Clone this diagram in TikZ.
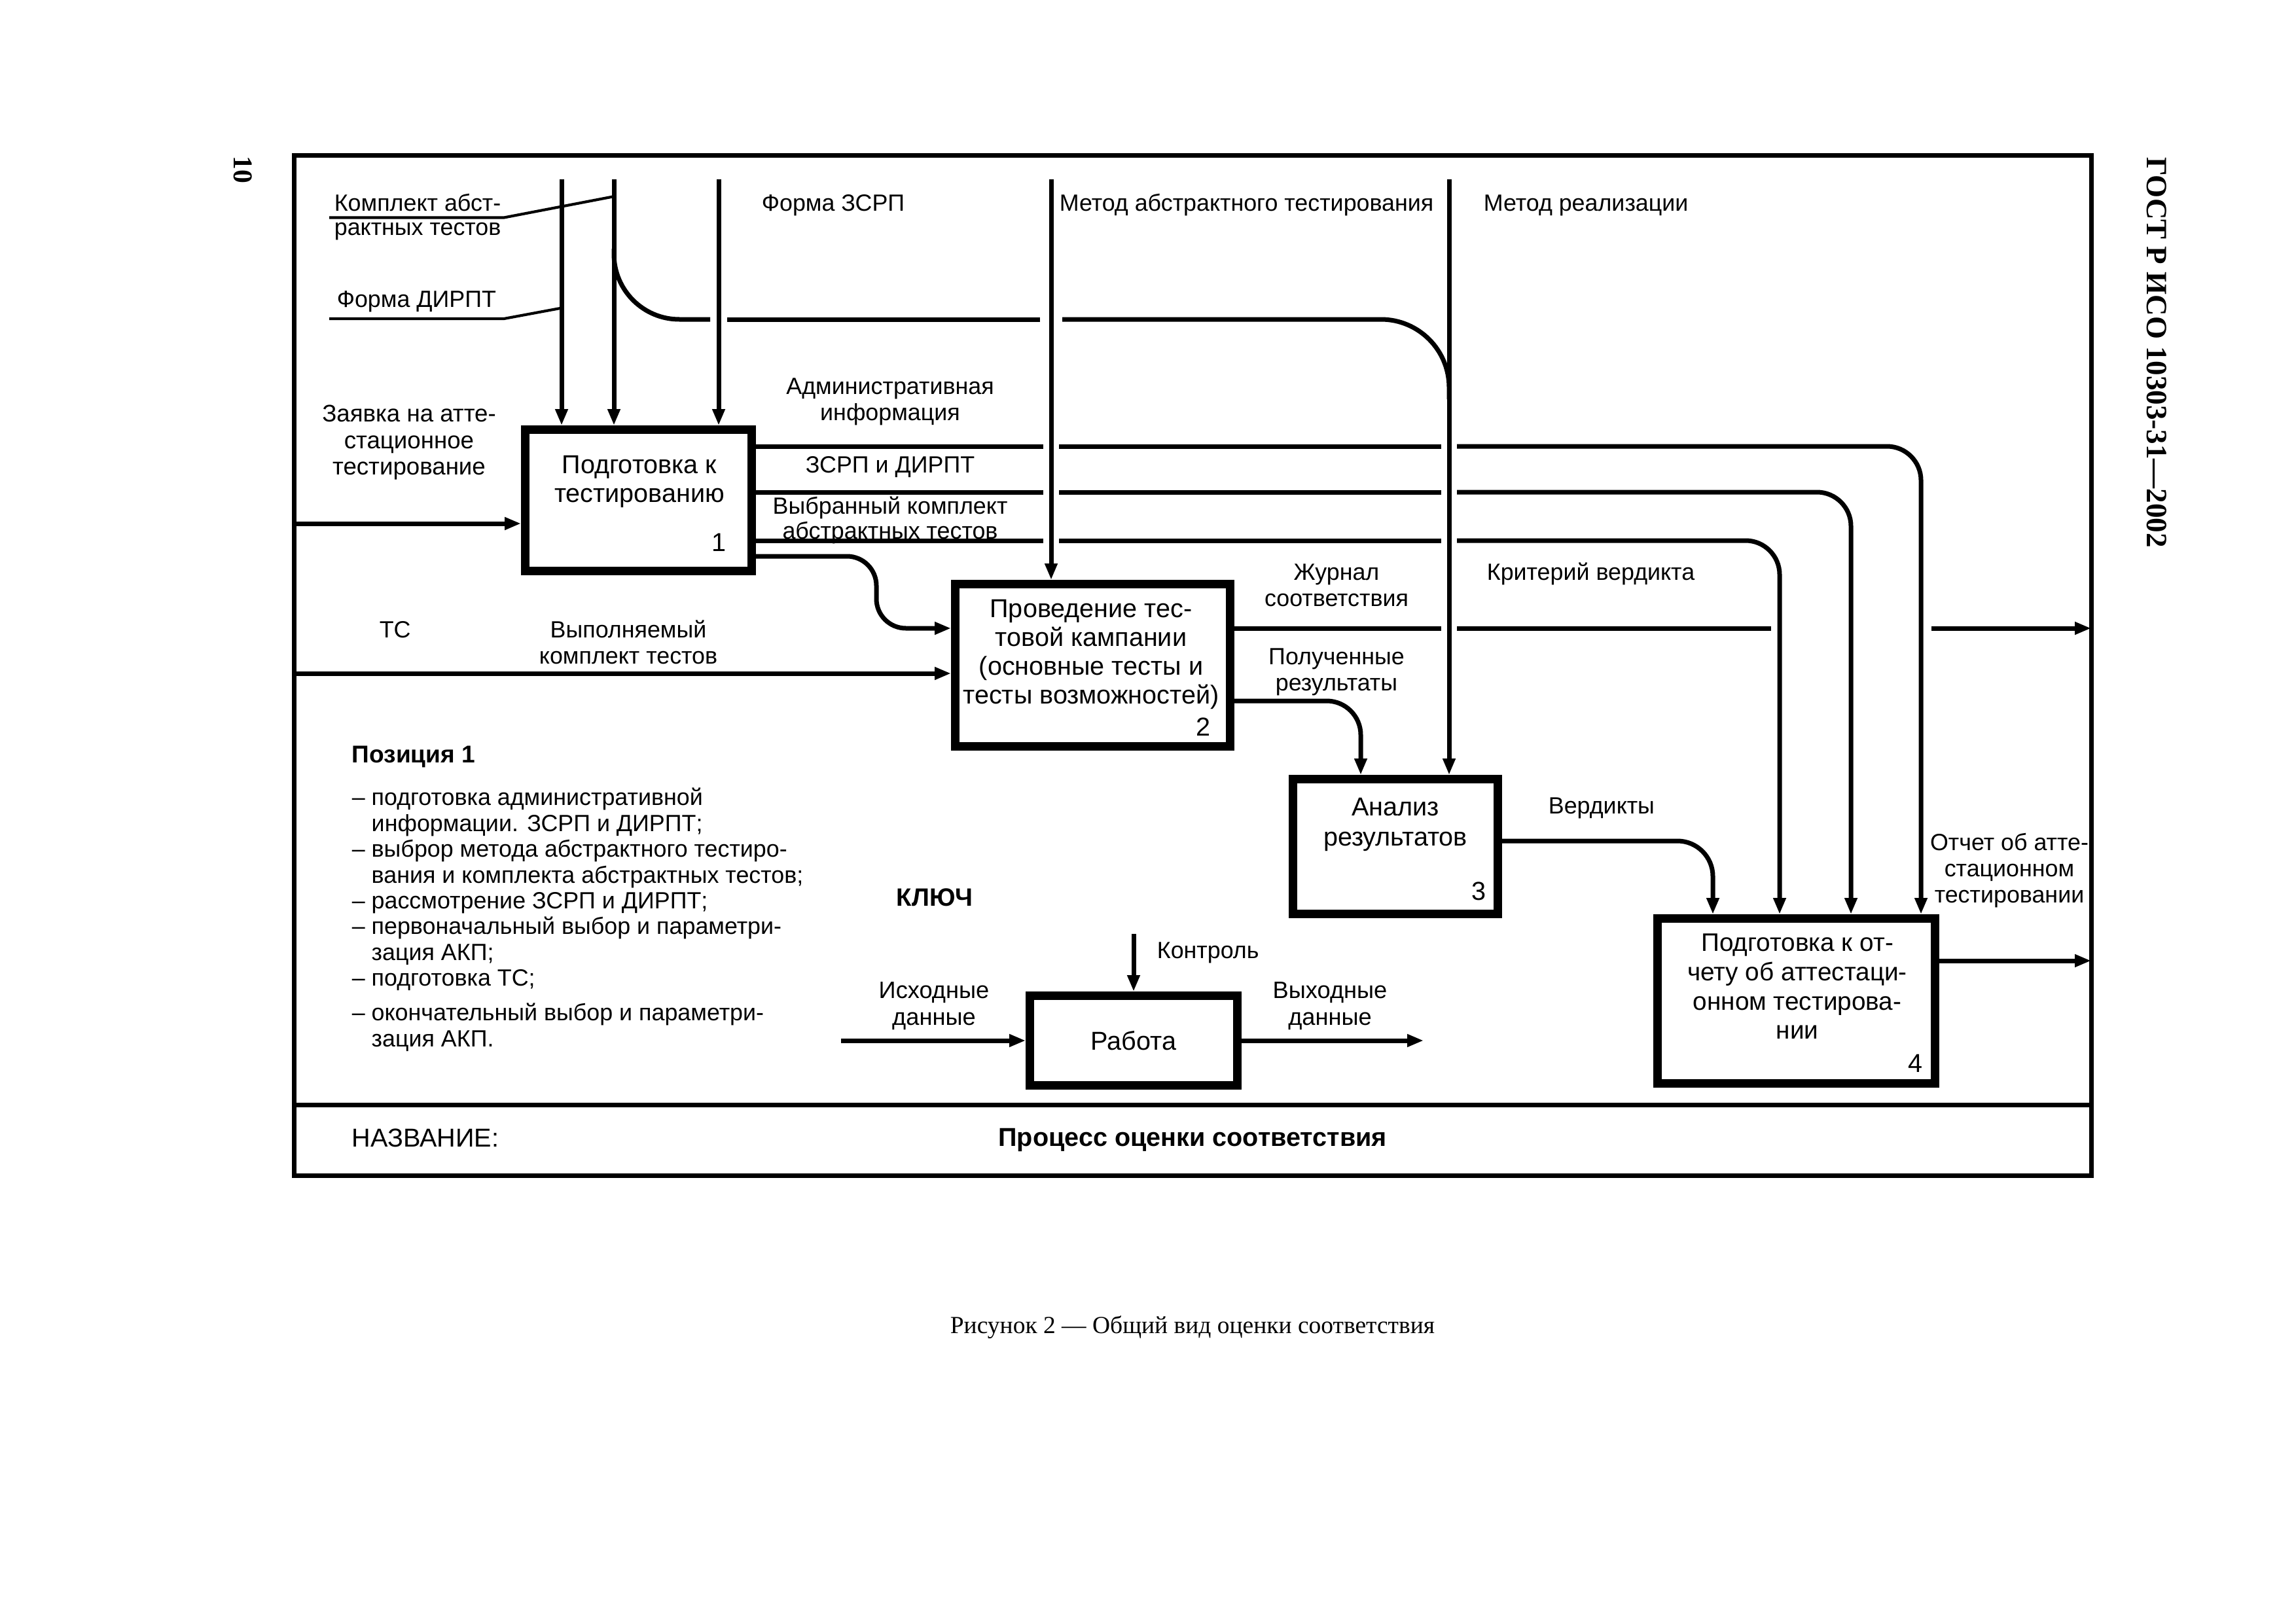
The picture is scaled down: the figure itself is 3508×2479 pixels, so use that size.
\documentclass[tikz,border=0pt]{standalone}
\usepackage{fontspec}
\setmainfont{Liberation Sans}
\newfontfamily\serifrm{Liberation Serif}
\usetikzlibrary{arrows.meta}
\newcommand{\T}{\rule{0pt}{7.5pt}}
\begin{document}
\begin{tikzpicture}[x=0.24pt,y=-0.24pt,
  conn/.style={line width=1.68pt},
  arr/.style={line width=1.68pt,-{Triangle[length=6pt,width=4.4pt]}},
  frm/.style={line width=1.68pt},
  lead/.style={line width=1.0pt},
  proc/.style={draw,line width=3.12pt,inner sep=0pt,font=\fontsize{9.5}{10.6}\selectfont},
  tc/.style={anchor=north,yshift=7.5pt,inner sep=0pt,align=center,font=\fontsize{8.6}{9.6}\selectfont},
  tl/.style={anchor=north west,yshift=7.5pt,inner sep=0pt,align=left,font=\fontsize{8.6}{9.6}\selectfont},
  num/.style={anchor=base east,inner sep=0pt,font=\fontsize{9.5}{10}\selectfont}
]
\useasboundingbox (0,0) rectangle (3508,2479);
\fill[white] (0,0) rectangle (3508,2479);

% frame
\coordinate (fTL) at (449,237.5);
\coordinate (fBR) at (3195,1796);
\draw[frm] (fTL) rectangle (fBR);
\coordinate (sepL) at (449,1688);
\coordinate (sepR) at (3195,1688);
\draw[frm] (sepL) -- (sepR);

% activity boxes
\node[proc,minimum width=83.04pt,minimum height=51.84pt] (b1) at (975.5,764.5) {};
\node[proc,minimum width=100.8pt,minimum height=59.52pt] (b2) at (1669.5,1016.5) {};
\node[proc,minimum width=75.12pt,minimum height=49.44pt] (b3) at (2132,1293.5) {};
\node[proc,minimum width=101.76pt,minimum height=60.48pt] (b4) at (2744.5,1529.5) {};
\node[proc,minimum width=76.08pt,minimum height=32.88pt] (work) at (1732,1590) {Работа};

% box texts
\node[tc,font=\fontsize{9.5}{10.56}\selectfont] (b1t) at (977,723) {\T Подготовка к\\тестированию};
\node[num] (n1) at (1110,842) {1};
\node[tc,font=\fontsize{9.5}{10.56}\selectfont] (b2t) at (1667,943) {\T Проведение тес-\\товой кампании\\(основные тесты и\\тесты возможностей)};
\node[num] (n2) at (1850,1124) {2};
\node[tc,font=\fontsize{9.5}{11}\selectfont] (b3t) at (2132,1246) {\T Анализ\\результатов};
\node[num] (n3) at (2271,1375) {3};
\node[tc,font=\fontsize{9.3}{10.7}\selectfont] (b4t) at (2746,1453) {\T Подготовка к от-\\чету об аттестаци-\\онном тестирова-\\нии};
\node[num] (n4) at (2938,1638) {4};

% top inputs / controls
\coordinate (v1) at (858,274);
\coordinate (v2) at (938,274);
\coordinate (v3) at (1098,274);
\coordinate (vm) at (1606,274);
\coordinate (vr) at (2214,274);
\draw[arr] (v1) -- (v1 |- b1.north);
\draw[arr] (v2) -- (v2 |- b1.north);
\draw[arr] (v3) -- (v3 |- b1.north);
\draw[arr] (vm) -- (vm |- b2.north);
\draw[arr] (vr) -- (vr |- b3.north);

% branch of the abstract test suite to analysis
\coordinate (brS) at (938,380);
\coordinate (brA) at (1085,488);
\coordinate (brB) at (1111,488);
\coordinate (brC) at (1589,488);
\coordinate (brD) at (1623,488);
\coordinate (brE) at (2214,610);
\draw[conn,rounded corners=24pt] (brS) |- (brA);
\draw[conn] (brB) -- (brC);
\draw[conn,rounded corners=25pt] (brD) -| (brE);

% leader lines of labels
\coordinate (l1a) at (503,332.5);
\coordinate (l1b) at (770,332.5);
\coordinate (l1c) at (939,300);
\draw[lead] (l1a) -- (l1b) -- (l1c);
\coordinate (l2a) at (503,487);
\coordinate (l2b) at (770,487);
\coordinate (l2c) at (856,471);
\draw[lead] (l2a) -- (l2b) -- (l2c);

% left inputs
\coordinate (zS) at (449,800);
\draw[arr] (zS) -- (zS -| b1.west);
\coordinate (tsS) at (449,1029);
\draw[arr] (tsS) -- (tsS -| b2.west);

% outputs of box 1
\draw[conn] (b1.east |- 0,682) -- (1594,682);
\draw[conn] (1618,682) -- (2202,682);
\draw[arr,rounded corners=12.5pt] (2226,682) -| (b4.north -| 2935,0);
\draw[conn] (b1.east |- 0,752) -- (1594,752);
\draw[conn] (1618,752) -- (2202,752);
\draw[arr,rounded corners=12.5pt] (2226,752) -| (b4.north -| 2828,0);
\draw[conn] (b1.east |- 0,826) -- (1594,826);
\draw[conn] (1618,826) -- (2202,826);
\draw[arr,rounded corners=12.5pt] (2226,826) -| (b4.north -| 2719,0);
\draw[arr,rounded corners=10.8pt] (b1.east |- 0,850) -| (1339,960) -- (b2.west |- 0,960);

% outputs of box 2
\draw[conn] (b2.east |- 0,960) -- (2202,960);
\draw[conn] (2226,960) -- (2706,960);
\draw[arr] (2951,960) -- (fBR |- 0,960);
\draw[arr,rounded corners=12.5pt] (b2.east |- 0,1071) -| (b3.north -| 2079,0);

% outputs of box 3 and 4
\draw[arr,rounded corners=13pt] (b3.east |- 0,1285) -| (b4.north -| 2617,0);
\draw[arr] (b4.east |- 0,1468) -- (fBR |- 0,1468);

% key
\coordinate (kc) at (1732,1427);
\draw[arr] (kc) -- (kc |- work.north);
\coordinate (ki) at (1285,1590);
\draw[arr] (ki) -- (ki -| work.west);
\coordinate (ko) at (2175,1590);
\draw[arr] (work.east |- ko) -- (ko);

% labels
\node[tl,font=\fontsize{8.6}{8.88}\selectfont] (kompl) at (510,322) {\T Комплект абст-\\рактных тестов};
\node[tl] (dirpt) at (514,469) {\T Форма ДИРПТ};
\node[tc,font=\fontsize{8.8}{9.72}\selectfont] (zayav) at (625,644) {\T Заявка на атте-\\стационное\\тестирование};
\node[tl] (zsrp) at (1163,322) {\T Форма ЗСРП};
\node[tl] (mat) at (1618,322) {\T Метод абстрактного тестирования};
\node[tl] (real) at (2266,322) {\T Метод реализации};
\node[tc] (admin) at (1360,602) {\T Административная\\информация};
\node[tc] (zid) at (1360,722) {\T ЗСРП и ДИРПТ};
\node[tc,font=\fontsize{8.6}{7.44}\selectfont] (vybr) at (1360,785) {\T Выбранный комплект\\абстрактных тестов};
\node[tc] (zhur) at (2042,886) {\T Журнал\\соответствия};
\node[tl] (krit) at (2271,886) {\T Критерий вердикта};
\node[tl] (ts) at (579,974) {\T ТС};
\node[tc] (vyp) at (960,974) {\T Выполняемый\\комплект тестов};
\node[tc] (pol) at (2042,1015) {\T Полученные\\результаты};
\node[tl] (verd) at (2365,1243) {\T Вердикты};
\node[tc] (otch) at (3070,1299) {\T Отчет об атте-\\стационном\\тестировании};

% position 1 list
\node[tl,font=\bfseries\fontsize{8.9}{9.6}\selectfont] (poz) at (537,1165) {\T Позиция 1};
\node[tl,font=\fontsize{8.6}{9.46}\selectfont] (list) at (537,1230) {\T – подготовка административной\\
\hphantom{– }информации. ЗСРП и ДИРПТ;\\
– выброр метода абстрактного тестиро-\\
\hphantom{– }вания и комплекта абстрактных тестов;\\
– рассмотрение ЗСРП и ДИРПТ;\\
– первоначальный выбор и параметри-\\
\hphantom{– }зация АКП;\\
– подготовка ТС;\\[3.26pt]
– окончательный выбор и параметри-\\
\hphantom{– }зация АКП.};

% key texts
\node[tl,font=\bfseries\fontsize{9.2}{9.6}\selectfont] (kluch) at (1369,1384) {\T КЛЮЧ};
\node[tl] (kontr) at (1767,1464) {\T Контроль};
\node[tc,font=\fontsize{8.7}{9.84}\selectfont] (ish) at (1427,1525) {\T Исходные\\данные};
\node[tc,font=\fontsize{8.7}{9.84}\selectfont] (vyh) at (2032,1525) {\T Выходные\\данные};

% title block
\node[tl,font=\fontsize{9.5}{10}\selectfont] (nazv) at (537,1752) {\T НАЗВАНИЕ:};
\node[tc,font=\bfseries\fontsize{9.5}{10}\selectfont] (title) at (1822,1751) {\T Процесс оценки соответствия};

% page texts
\node[anchor=base,inner sep=0pt,font=\serifrm\fontsize{9}{10}\selectfont] (cap) at (1822,2037) {Рисунок 2 — Общий вид оценки соответствия};
\node[rotate=-90,inner sep=0pt,font=\serifrm\bfseries\fontsize{10}{11}\selectfont] (pnum) at (371.5,259.5) {10};
\node[rotate=-90,inner sep=0pt,font=\serifrm\bfseries\fontsize{10.8}{12}\selectfont] (gost) at (3295,538.5) {ГОСТ Р ИСО 10303-31—2002};
\end{tikzpicture}
\end{document}
